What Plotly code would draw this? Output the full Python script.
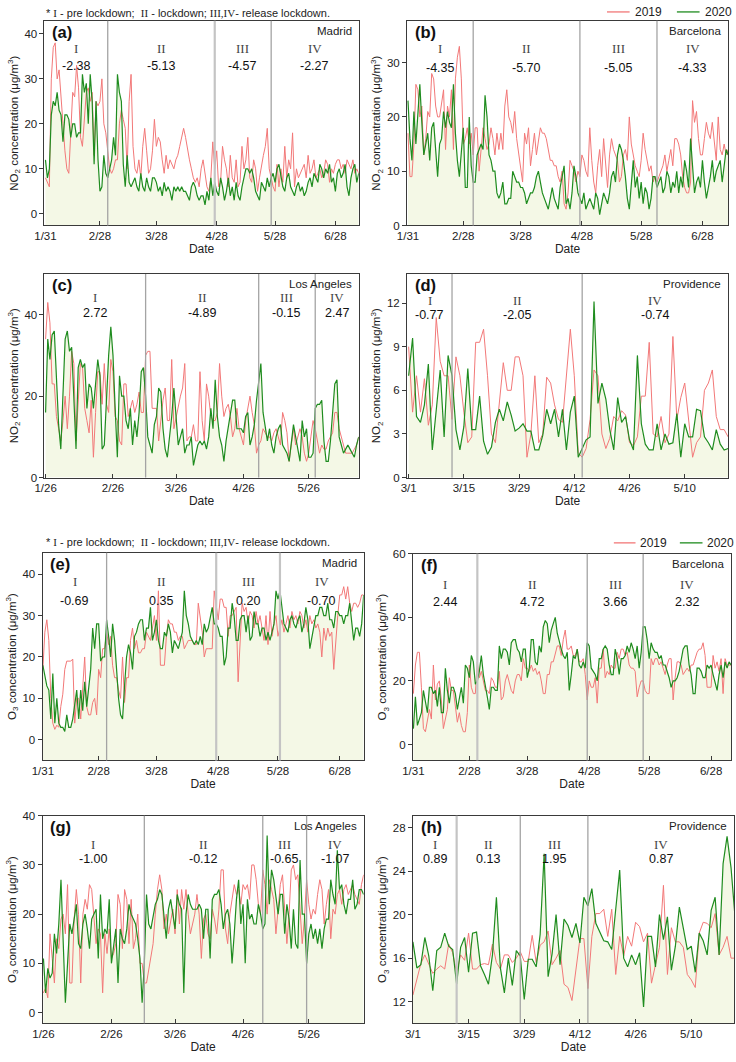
import pandas as pd
import plotly.graph_objects as go

W, H = 736, 1062

# ---------------- data (daily values) ----------------
# (a) Madrid NO2, from 1/31
a_2019 = [8, 7, 6, 30, 37, 38, 30, 32, 25, 20,
          14, 10, 9, 20, 27, 26, 33, 28, 17, 15,
          22, 27, 28, 25, 27, 13, 25, 24, 25, 30,
          20, 18, 14, 10, 9, 10, 12, 12, 20, 23,
          21, 19, 10, 25, 31, 15, 10, 9, 12, 8,
          15, 19, 14, 9, 10, 14, 21, 15, 17, 16,
          12, 9, 13, 10, 12, 11, 10, 12, 13, 15,
          17, 19, 17, 14, 12, 10, 8, 7, 8, 6,
          10, 12, 9, 6, 5, 8, 16, 10, 14, 6,
          7, 15, 12, 10, 6, 13, 8, 7, 12, 6,
          7, 15, 10, 12, 17, 8, 7, 12, 10, 5,
          8, 11, 13, 15, 19, 10, 8, 6, 5, 11,
          6, 10, 7, 15, 8, 12, 10, 18, 6, 10,
          8, 9, 10, 11, 8, 13, 9, 10, 12, 8,
          9, 10, 8, 9, 12, 11, 7, 10, 9, 11,
          12, 12, 10, 11, 9, 12, 11, 10, 12, 9,
          10, 9]
a_2020 = [12, 8, 10, 22, 25, 24, 27, 23, 22, 16,
          22, 22, 21, 17, 20, 20, 17, 18, 18, 31,
          27, 29, 20, 31, 25, 11, 25, 12, 5, 6,
          13, 9, 8, 10, 12, 17, 13, 31, 27, 25,
          11, 6, 13, 7, 6, 7, 8, 6, 5, 9,
          6, 5, 8, 6, 5, 8, 8, 7, 5, 6,
          4, 7, 5, 6, 5, 3, 6, 5, 6, 5,
          6, 5, 5, 4, 3, 6, 7, 6, 4, 3,
          4, 4, 2, 5, 3, 8, 4, 7, 5, 4,
          8, 6, 3, 5, 8, 4, 6, 3, 7, 4,
          3, 6, 8, 10, 10, 9, 10, 8, 5, 4,
          3, 7, 6, 5, 8, 6, 8, 9, 7, 10,
          11, 8, 6, 5, 8, 9, 6, 5, 4, 6,
          7, 5, 6, 4, 5, 7, 8, 6, 9, 8,
          7, 11, 10, 8, 10, 9, 11, 7, 8, 5,
          9, 10, 8, 9, 11, 6, 4, 8, 10, 11,
          7, 9]

# (b) Barcelona NO2, from 1/31
b_2019 = [17, 9, 9, 15, 26, 25, 20, 22, 13, 16,
          21, 20, 28, 27, 22, 20, 20, 23, 25, 14,
          22, 20, 25, 14, 27, 31, 33, 27, 15, 16,
          18, 15, 17, 13, 18, 18, 10, 14, 18, 16,
          14, 15, 18, 16, 13, 17, 14, 17, 14, 22,
          25, 20, 19, 17, 21, 16, 13, 10, 8, 17,
          15, 18, 11, 14, 17, 13, 16, 18, 17, 17,
          16, 14, 12, 12, 11, 11, 9, 8, 10, 4,
          3, 6, 12, 11, 10, 8, 10, 9, 13, 12,
          10, 9, 18, 12, 8, 6, 11, 14, 9, 16,
          12, 7, 13, 16, 14, 13, 12, 8, 9, 13,
          14, 12, 20, 15, 13, 11, 10, 9, 12, 17,
          14, 12, 10, 11, 8, 9, 8, 9, 10, 11,
          13, 10, 12, 14, 11, 16, 16, 15, 13, 9,
          7, 6, 6, 8, 23, 19, 21, 16, 13, 13,
          16, 19, 17, 16, 19, 15, 12, 20, 14, 13,
          15, 13, 14]
b_2020 = [23, 16, 12, 21, 15, 20, 26, 19, 13, 15,
          17, 12, 18, 19, 14, 9, 15, 16, 21, 18,
          21, 19, 18, 26, 17, 12, 9, 13, 18, 7,
          7, 20, 11, 8, 8, 13, 14, 15, 14, 24,
          20, 13, 12, 10, 10, 6, 5, 6, 8, 4,
          4, 5, 5, 10, 9, 8, 8, 7, 7, 6,
          4, 5, 6, 6, 7, 9, 10, 8, 6, 5,
          4, 3, 5, 7, 5, 4, 3, 7, 9, 11,
          4, 5, 3, 6, 11, 9, 6, 5, 4, 6,
          3, 4, 5, 4, 3, 6, 5, 2, 4, 6,
          5, 4, 6, 9, 10, 8, 13, 15, 14, 12,
          9, 5, 3, 8, 12, 7, 9, 5, 8, 4,
          7, 6, 3, 5, 9, 9, 7, 8, 9, 6,
          7, 10, 9, 6, 8, 7, 10, 6, 9, 7,
          12, 10, 7, 16, 10, 6, 8, 9, 7, 12,
          8, 5, 7, 9, 12, 8, 10, 11, 12, 8,
          11, 14, 13]

# (c) Los Angeles NO2, from 1/26
c_2019 = [34, 43, 38, 23, 23, 15, 12, 9, 14, 20,
          12, 20, 31, 28, 9, 20, 28, 27, 17, 14,
          11, 19, 5, 16, 26, 26, 18, 28, 18, 16,
          29, 26, 15, 14, 9, 8, 23, 23, 15, 17,
          19, 16, 18, 21, 16, 16, 30, 31, 31, 17,
          17, 17, 9, 14, 19, 22, 14, 14, 29, 12,
          15, 18, 20, 22, 28, 9, 10, 10, 13, 9,
          9, 26, 14, 9, 23, 20, 15, 14, 14, 16,
          28, 20, 15, 17, 18, 15, 10, 12, 17, 12,
          10, 8, 14, 17, 20, 16, 13, 6, 8, 9,
          12, 11, 10, 10, 9, 11, 12, 10, 8, 16,
          14, 11, 4, 8, 12, 8, 10, 12, 10, 6,
          4, 6, 10, 14, 12, 9, 6, 8, 7, 7,
          9, 10, 11, 16, 16, 12, 10, 8, 6, 6,
          6, 6, 7, 8, 10]
c_2020 = [16, 34, 29, 35, 36, 23, 13, 7, 20, 34,
          36, 31, 32, 20, 7, 27, 29, 27, 28, 17,
          23, 22, 17, 23, 29, 25, 7, 8, 20, 30,
          37, 30, 17, 5, 25, 20, 20, 14, 12, 17,
          8, 14, 10, 16, 26, 27, 20, 10, 8, 6,
          13, 15, 22, 21, 12, 7, 5, 10, 15, 22,
          14, 8, 10, 12, 6, 8, 8, 10, 3, 6,
          8, 9, 8, 9, 7, 10, 17, 12, 24, 15,
          10, 8, 4, 9, 12, 15, 19, 19, 12, 12,
          12, 11, 15, 16, 8, 10, 13, 19, 24, 28,
          16, 12, 9, 12, 8, 6, 10, 12, 13, 8,
          7, 6, 4, 9, 13, 10, 7, 4, 14, 10,
          12, 5, 5, 6, 17, 18, 18, 19, 9, 4,
          4, 9, 16, 23, 24, 10, 8, 6, 7, 8,
          7, 6, 5, 8, 10]

# (d) Providence NO2, from 3/1
d_2019 = [9, 4.5, 7, 4.5, 6.8, 3.6, 5, 11, 8, 7,
          7, 4, 8.3, 7, 4.5, 2.4, 2.8, 9.3, 9.3, 10.2,
          7, 3, 2.4, 5, 7.9, 6, 6, 8.3, 8.3, 7,
          1.4, 3, 7, 2.4, 3, 6.9, 6.5, 5, 4, 3.8,
          7, 10.2, 7, 1.7, 1.4, 2, 4, 7.4, 7, 3,
          2, 2.7, 4.2, 3.9, 4.6, 4.3, 2.4, 2.2, 2.8, 5.6,
          5.6, 9.3, 3, 2.8, 4.2, 2.4, 3, 9.7, 4, 5.5,
          6.5, 3.8, 1.4, 2.4, 2.8, 6, 6.5, 7.4, 4.2, 3.3,
          3.3, 2.8]
d_2020 = [7, 9.6, 4.2, 3.8, 5, 7.8, 1.9, 4.5, 7.4, 2.8,
          8.4, 7, 3.3, 1.9, 3.5, 7.5, 3.3, 3.3, 5.6, 2.5,
          1.6, 2.1, 3.8, 4.7, 3.9, 5.2, 4.3, 3.2, 3.4, 3.7,
          3.2, 3.2, 1.9, 1.9, 2.9, 4.7, 3.7, 4.7, 2.8, 4.7,
          1.9, 4.5, 5.6, 1.4, 2, 2.6, 2.8, 12.1, 5.1, 6.5,
          5.4, 3.3, 1.9, 5.5, 3.8, 4.2, 2.6, 1.9, 8.4, 3.7,
          2.3, 1.9, 1.9, 3.7, 1.9, 3, 2.3, 2.4, 4.4, 1.4,
          3.7, 2.8, 2.8, 4.7, 4.6, 2.8, 2.4, 1.9, 3.3, 2.3,
          1.9, 2]

# (e) Madrid O3, from 1/31
e_2019 = [17, 26, 29, 24, 10, 4, 2.5, 3.5, 3, 8,
          11, 17, 19, 19, 19, 19.5, 4, 10, 10, 5,
          12, 20, 8, 6, 6, 9, 10, 6, 17, 15,
          22, 22, 26, 23, 25, 18, 15, 15, 12, 10,
          20, 9, 15, 15, 24, 27, 22, 24, 21, 21,
          22, 22, 26, 25, 24, 27, 30, 24, 36, 18,
          18, 18, 25, 29, 28, 28, 26, 26, 24, 25,
          25, 22, 23, 24, 24, 24, 23, 23, 33, 30,
          26, 20, 22, 22, 22, 22, 36, 32, 29, 34,
          34, 32, 32, 25, 30, 30, 31, 32, 14, 25,
          33, 31, 32, 28, 31, 30, 27, 31, 28, 30,
          27, 24, 30, 23, 31, 25, 28, 30, 25, 27,
          29, 26, 28, 30, 27, 31, 29, 30, 28, 31,
          30, 27, 29, 26, 30, 28, 29, 27, 28, 26,
          20, 27, 24, 27, 25, 26, 17, 24, 30, 35,
          35, 37, 34, 37, 33, 31, 33, 33, 32, 33,
          35, 35]
e_2020 = [18, 15, 13, 12, 5, 16, 4, 10, 4, 3,
          3, 2, 6, 3, 3, 5, 8, 12, 5, 12,
          7, 14, 8, 12, 17, 27, 22, 28, 28, 19,
          20, 20, 29, 25, 20, 28, 24, 17, 10, 6,
          5, 13, 20, 23, 21, 17, 25, 26, 28, 29,
          29, 24, 27, 27, 32, 24, 26, 29, 24, 22,
          22, 26, 25, 28, 26, 21, 24, 23, 22, 24,
          26, 36, 30, 28, 25, 24, 23, 24, 23, 25,
          23, 28, 26, 27, 30, 32, 28, 28, 27, 25,
          25, 18, 20, 27, 27, 33, 30, 24, 24, 29,
          30, 30, 26, 30, 24, 25, 31, 28, 28, 25,
          27, 27, 24, 26, 24, 26, 28, 36, 34, 36,
          32, 28, 27, 26, 29, 30, 28, 27, 29, 30,
          26, 28, 32, 29, 22, 25, 28, 30, 30, 32,
          32, 30, 30, 33, 29, 29, 27, 31, 31, 30,
          30, 28, 30, 30, 33, 28, 24, 27, 27, 25,
          28, 35]

# (f) Barcelona O3, from 1/31
f_2019 = [16, 25, 29, 29, 18, 5, 4, 8, 11, 8,
          25, 14, 19, 20, 14, 5, 8, 11, 21, 17,
          17, 12, 7, 10, 6, 4, 4, 10, 25, 18,
          16, 16, 26, 21, 23, 20, 17, 17, 16, 21,
          20, 18, 18, 23, 14, 15, 20, 22, 19, 17,
          16, 20, 22, 22, 20, 27, 24, 24, 23, 25,
          23, 24, 22, 23, 20, 16, 16, 22, 22, 26,
          26, 29, 31, 31, 28, 33, 36, 30, 30, 31,
          28, 28, 30, 26, 26, 27, 22, 14, 20, 18,
          18, 21, 13, 24, 24, 30, 21, 23, 22, 25,
          24, 24, 29, 27, 30, 30, 28, 29, 25, 24,
          24, 23, 15, 18, 20, 20, 17, 16, 16, 27,
          25, 27, 27, 25, 26, 24, 22, 25, 27, 27,
          14, 21, 26, 26, 25, 22, 23, 24, 23, 25,
          25, 27, 29, 30, 30, 32, 28, 18, 18, 18,
          28, 24, 26, 23, 27, 16, 27, 25, 25, 25]
f_2020 = [5, 15, 6, 8, 10, 17, 14, 10, 18, 18,
          16, 17, 12, 18, 10, 10, 24, 17, 13, 18,
          18, 16, 11, 14, 18, 13, 25, 24, 21, 28,
          26, 19, 20, 23, 28, 22, 19, 15, 11, 18,
          18, 17, 17, 31, 27, 30, 30, 29, 25, 32,
          33, 33, 30, 29, 26, 30, 30, 21, 24, 33,
          33, 26, 25, 31, 29, 37, 39, 38, 32, 36,
          38, 40, 35, 32, 30, 28, 27, 29, 17, 22,
          28, 27, 30, 25, 24, 26, 24, 32, 31, 24,
          23, 22, 20, 27, 27, 30, 31, 30, 25, 22,
          22, 30, 27, 22, 27, 27, 28, 31, 29, 32,
          30, 27, 31, 24, 29, 37, 37, 33, 27, 32,
          30, 29, 29, 27, 28, 25, 25, 23, 21, 18,
          20, 20, 21, 23, 27, 30, 31, 31, 25, 22,
          16, 16, 24, 24, 23, 21, 21, 25, 24, 25,
          22, 19, 17, 22, 25, 21, 26, 24, 26, 25]

# (g) Los Angeles O3, from 1/26
g_2019 = [4, 5, 3, 16, 11, 6, 15, 13, 19, 20,
          16, 26, 6, 6, 19, 25, 20, 6, 20, 23,
          21, 26, 25, 20, 14, 17, 16, 4, 16, 12,
          17, 11, 12, 14, 24, 22, 13, 25, 23, 14,
          23, 13, 15, 20, 10, 10, 6, 6, 9, 12,
          14, 20, 25, 28, 25, 17, 20, 16, 19, 21,
          16, 25, 18, 25, 21, 25, 20, 16, 18, 20,
          24, 20, 11, 19, 20, 16, 15, 21, 19, 16,
          21, 29, 29, 17, 14, 20, 23, 26, 24, 25,
          22, 26, 25, 26, 23, 30, 30, 27, 22, 20,
          29, 26, 20, 27, 25, 23, 16, 22, 26, 28,
          22, 14, 20, 29, 30, 27, 28, 22, 14, 19,
          27, 22, 19, 21, 20, 24, 27, 25, 18, 22,
          25, 15, 21, 20, 24, 25, 22, 25, 26, 24,
          25, 26, 24, 23, 22, 26, 28]
g_2020 = [11, 4, 9, 7, 8, 16, 12, 18, 27, 16,
          2, 10, 18, 16, 19, 22, 14, 13, 18, 20,
          17, 13, 19, 20, 21, 11, 24, 15, 17, 16,
          23, 10, 14, 17, 6, 17, 15, 14, 17, 22,
          20, 19, 18, 15, 11, 2, 10, 24, 18, 17,
          20, 22, 23, 25, 24, 20, 15, 21, 23, 20,
          17, 24, 22, 21, 4, 20, 24, 22, 21, 21,
          21, 22, 21, 15, 21, 21, 11, 23, 24, 24,
          25, 22, 17, 20, 21, 18, 10, 16, 23, 27,
          18, 22, 10, 23, 19, 20, 18, 18, 22, 20,
          17, 18, 36, 22, 29, 27, 24, 20, 24, 24,
          16, 22, 19, 13, 21, 14, 13, 31, 20, 20,
          10, 16, 18, 15, 17, 14, 17, 13, 17, 19,
          19, 27, 24, 22, 33, 25, 26, 22, 20, 23,
          23, 27, 21, 22, 25, 25, 24]

# (h) Providence O3, from 3/1
h_2019 = [12.6, 14, 15.5, 16.3, 15.5, 14.6, 15, 15.3, 15, 17.3,
          16.5, 14.6, 16.3, 15.8, 18.3, 15, 15, 15.4, 15.5, 15.4,
          17.3, 15.6, 15, 16.3, 16.3, 15.6, 16, 16.6, 15.7, 15.7,
          18.1, 15.6, 17.2, 17.5, 18.5, 15.4, 16, 16.7, 13.6, 13.3,
          12.1, 15, 17.8, 17.8, 13.2, 18, 20.1, 20.1, 20.5, 18,
          20.5, 14.5, 18, 16.2, 18, 17.1, 19.3, 18.9, 17.5, 18.3,
          13.7, 15.4, 17, 22.7, 14.5, 18.8, 17.5, 17.5, 17, 14.5,
          14, 13.3, 18.3, 19.3, 19.2, 18.8, 20.1, 16.3, 17, 18,
          16, 16]
h_2020 = [17.5, 15.1, 15.4, 17.9, 16.2, 13, 16.7, 17, 18.3, 17.1,
          16.8, 13.6, 17, 17.9, 14.7, 18.3, 18.4, 15.3, 14.5, 13.6,
          16.3, 21.6, 15.1, 12.8, 16, 13.5, 16.7, 16.2, 12.2, 15.9,
          15.9, 15.2, 18.2, 25.6, 14.3, 16.4, 20, 15.4, 19.6, 19,
          17.9, 19.2, 17.4, 21.6, 20.8, 22.4, 19.2, 18.4, 17.6, 17.5,
          16.8, 20.5, 24.1, 16, 15.2, 16.3, 15.4, 16.5, 11.5, 18,
          18, 15.2, 20, 17.7, 19.8, 14.9, 17.1, 20.7, 18.6, 16.8,
          17.1, 14.7, 18.3, 17.6, 16.3, 20.4, 21.6, 16.3, 24.7, 27.2,
          24.3, 19.8]

# period numerals and changes
a_changes = ["-2.38", "-5.13", "-4.57", "-2.27"]
b_changes = ["-4.35", "-5.70", "-5.05", "-4.33"]
c_changes = ["2.72", "-4.89", "-0.15", "2.47"]
d_changes = ["-0.77", "-2.05", "-0.74"]
e_changes = ["-0.69", "0.35", "0.20", "-0.70"]
f_changes = ["2.44", "4.72", "3.66", "2.32"]
g_changes = ["-1.00", "-0.12", "-0.65", "-1.07"]
h_changes = ["0.89", "0.13", "1.95", "0.87"]
periods4 = ["I", "II", "III", "IV"]
periods3 = ["I", "II", "IV"]

# tick labels
ticks_jan31 = ["2020-01-31", "2020-02-28", "2020-03-28", "2020-04-28", "2020-05-28", "2020-06-28"]
labels_jan31 = ["1/31", "2/28", "3/28", "4/28", "5/28", "6/28"]
ticks_jan26 = ["2020-01-26", "2020-02-26", "2020-03-26", "2020-04-26", "2020-05-26"]
labels_jan26 = ["1/26", "2/26", "3/26", "4/26", "5/26"]
ticks_mar1 = ["2020-03-01", "2020-03-15", "2020-03-29", "2020-04-12", "2020-04-26", "2020-05-10"]
labels_mar1 = ["3/1", "3/15", "3/29", "4/12", "4/26", "5/10"]

NO2_TITLE = "NO<sub>2</sub> concentration (μg/m<sup>3</sup>)"
O3_TITLE = "O<sub>3</sub> concentration (μg/m<sup>3</sup>)"

RED = "#f27878"
GREEN = "#1f8c1f"
FILL = "#f4f8e6"
FRAME = "#3a3a3a"
VLINE = "#a4a4a4"
VLINE_LIGHT = "#c4c4c4"
SANS = "Liberation Sans, Arial, sans-serif"
SERIF = "Liberation Serif, Times New Roman, serif"

panels = [
    dict(lab="(a)", city="Madrid", d19=a_2019, d20=a_2020, start="2020-01-31",
         rng=["2020-01-30 12:00", "2020-07-10"], lines=["2020-03-03", "2020-04-27", "2020-05-26"],
         lstyle=[0, 1, 0],
         yr=[-2.6, 42.9], yt=[0, 10, 20, 30, 40], xt=ticks_jan31, xl=labels_jan31,
         box=(34, 353, 15, 222), yt_title=NO2_TITLE, per=periods4, chg=a_changes, ypos=(0.865, 0.78)),
    dict(lab="(b)", city="Barcelona", d19=b_2019, d20=b_2020, start="2020-01-31",
         rng=["2020-01-30 12:00", "2020-07-11"], lines=["2020-03-04", "2020-04-27", "2020-06-05"],
         lstyle=[0, 0, 0],
         yr=[0, 37.7], yt=[0, 10, 20, 30], xt=ticks_jan31, xl=labels_jan31,
         box=(402, 728, 15, 222), yt_title=NO2_TITLE, per=periods4, chg=b_changes, ypos=(0.865, 0.77)),
    dict(lab="(c)", city="Los Angeles", d19=c_2019, d20=c_2020, start="2020-01-26",
         rng=["2020-01-25 12:00", "2020-06-18"], lines=["2020-03-12", "2020-05-03", "2020-05-29"],
         lstyle=[0, 0, 0],
         yr=[0, 50], yt=[0, 20, 40], xt=ticks_jan26, xl=labels_jan26,
         box=(34, 353, 271, 477), yt_title=NO2_TITLE, per=periods4, chg=c_changes, ypos=(0.883, 0.81)),
    dict(lab="(d)", city="Providence", d19=d_2019, d20=d_2020, start="2020-03-01",
         rng=["2020-02-29 14:00", "2020-05-21"], lines=["2020-03-12", "2020-04-14"],
         lstyle=[0, 0],
         yr=[0, 14], yt=[0, 3, 6, 9, 12], xt=ticks_mar1, xl=labels_mar1,
         box=(402, 728, 271, 477), yt_title=NO2_TITLE, per=periods3, chg=d_changes, ypos=(0.872, 0.80)),
    dict(lab="(e)", city="Madrid", d19=e_2019, d20=e_2020, start="2020-01-31",
         rng=["2020-01-30 20:00", "2020-07-10"], lines=["2020-03-03", "2020-04-27", "2020-05-29"],
         lstyle=[0, 1, 1],
         yr=[-5, 45.2], yt=[0, 10, 20, 30, 40], xt=ticks_jan31, xl=labels_jan31,
         box=(32, 358, 553, 763), yt_title=O3_TITLE, per=periods4, chg=e_changes, ypos=(0.86, 0.77)),
    dict(lab="(f)", city="Barcelona", d19=f_2019, d20=f_2020, start="2020-01-31",
         rng=["2020-01-30 18:00", "2020-07-08"], lines=["2020-03-03", "2020-04-27", "2020-05-25"],
         lstyle=[1, 0, 0],
         yr=[-5, 60], yt=[0, 20, 40, 60], xt=ticks_jan31, xl=labels_jan31,
         box=(408, 731, 554, 763), yt_title=O3_TITLE, per=periods4, chg=f_changes, ypos=(0.85, 0.765)),
    dict(lab="(g)", city="Los Angeles", d19=g_2019, d20=g_2020, start="2020-01-26",
         rng=["2020-01-25 14:00", "2020-06-20"], lines=["2020-03-12", "2020-05-05", "2020-05-25"],
         lstyle=[0, 0, 0],
         yr=[-2.2, 40], yt=[0, 10, 20, 30, 40], xt=ticks_jan26, xl=labels_jan26,
         box=(32, 358, 819, 1029), yt_title=O3_TITLE, per=periods4, chg=g_changes, ypos=(0.86, 0.79)),
    dict(lab="(h)", city="Providence", d19=h_2019, d20=h_2020, start="2020-03-01",
         rng=["2020-03-01", "2020-05-20 18:00"], lines=["2020-03-12", "2020-03-28", "2020-04-14"],
         lstyle=[1, 0, 0],
         yr=[10, 29.1], yt=[12, 16, 20, 24, 28], xt=ticks_mar1, xl=labels_mar1,
         box=(408, 734, 819, 1029), yt_title=O3_TITLE, per=periods4, chg=h_changes, ypos=(0.86, 0.79)),
]

fig = go.Figure()
annotations = []
shapes = []

for i, p in enumerate(panels, start=1):
    sfx = "" if i == 1 else str(i)
    xa, ya = "x" + sfx, "y" + sfx
    d19 = pd.date_range(p["start"], periods=len(p["d19"]), freq="D")
    d20 = pd.date_range(p["start"], periods=len(p["d20"]), freq="D")
    y0 = p["yr"][0]
    # shaded area under the 2020 curve down to the axis floor
    fig.add_trace(go.Scatter(x=d20, y=[y0] * len(d20), mode="lines", line=dict(width=0),
                             hoverinfo="skip", showlegend=False, xaxis=xa, yaxis=ya))
    fig.add_trace(go.Scatter(x=d20, y=p["d20"], mode="lines", line=dict(width=0),
                             fill="tonexty", fillcolor=FILL, hoverinfo="skip",
                             showlegend=False, xaxis=xa, yaxis=ya))
    fig.add_trace(go.Scatter(x=d19, y=p["d19"], mode="lines", name="2019",
                             line=dict(color=RED, width=1), showlegend=False,
                             xaxis=xa, yaxis=ya))
    fig.add_trace(go.Scatter(x=d20, y=p["d20"], mode="lines", name="2020",
                             line=dict(color=GREEN, width=1.2), showlegend=False,
                             xaxis=xa, yaxis=ya))

    x0, x1, t, b = p["box"]
    fig.update_layout(**{
        "xaxis" + sfx: dict(
            domain=[x0 / W, x1 / W], anchor=ya, type="date", range=p["rng"],
            tickvals=p["xt"], ticktext=p["xl"], ticks="inside", ticklen=4,
            tickcolor=FRAME, showline=True, mirror=True, linecolor=FRAME, linewidth=1,
            showgrid=False, zeroline=False,
            tickfont=dict(family=SANS, size=11.5, color="#222"),
            title=dict(text="Date", font=dict(family=SANS, size=12, color="#222"), standoff=3),
        ),
        "yaxis" + sfx: dict(
            domain=[1 - b / H, 1 - t / H], anchor=xa, range=p["yr"],
            tickvals=p["yt"], ticks="outside", ticklen=4, tickcolor=FRAME,
            showline=True, mirror=True, linecolor=FRAME, linewidth=1,
            showgrid=False, zeroline=False,
            tickfont=dict(family=SANS, size=11.5, color="#222"),
            title=dict(text=p["yt_title"], font=dict(family=SANS, size=11.5, color="#222"), standoff=3),
        ),
    })

    # period boundaries
    for ln, st in zip(p["lines"], p["lstyle"]):
        lcol, lw = (VLINE_LIGHT, 2.2) if st else (VLINE, 1.3)
        shapes.append(dict(type="line", xref=xa, yref=ya + " domain", x0=ln, x1=ln, y0=0, y1=1,
                           line=dict(color=lcol, width=lw)))
    bounds = [pd.Timestamp(p["rng"][0])] + [pd.Timestamp(s) for s in p["lines"]] + [pd.Timestamp(p["rng"][1])]
    for k, (num, chg) in enumerate(zip(p["per"], p["chg"])):
        c = bounds[k] + (bounds[k + 1] - bounds[k]) / 2
        annotations.append(dict(x=c, y=p["ypos"][0], xref=xa, yref=ya + " domain", text=num,
                                showarrow=False, font=dict(family=SERIF, size=13, color="#444"),
                                xanchor="center", yanchor="middle"))
        annotations.append(dict(x=c, y=p["ypos"][1], xref=xa, yref=ya + " domain", text=chg,
                                showarrow=False, font=dict(family=SANS, size=12.5, color="#111"),
                                xanchor="center", yanchor="middle"))
    # panel label and city
    h = b - t
    annotations.append(dict(x=6 / (x1 - x0), y=1 - 11 / h, xref=xa + " domain", yref=ya + " domain",
                            text="<b>" + p["lab"] + "</b>", showarrow=False,
                            font=dict(family=SANS, size=16.5, color="#111"),
                            xanchor="left", yanchor="middle"))
    annotations.append(dict(x=1 - 5 / (x1 - x0), y=1 - 10 / h, xref=xa + " domain", yref=ya + " domain",
                            text=p["city"], showarrow=False,
                            font=dict(family=SANS, size=11.5, color="#222"),
                            xanchor="right", yanchor="middle"))

# note lines
note = ("* <span style='font-family:Liberation Serif'>I</span> - pre lockdown;  "
        "<span style='font-family:Liberation Serif'>II</span> - lockdown; "
        "<span style='font-family:Liberation Serif'>III,IV</span>- release lockdown.")
for (nx, ny) in [(34, 7), (33, 542)]:
    annotations.append(dict(x=nx / W, y=1 - ny / H, xref="paper", yref="paper", text=note,
                            showarrow=False, font=dict(family=SANS, size=11, color="#222"),
                            xanchor="left", yanchor="middle"))

# legends (line samples + labels)
legend_sets = [
    (6, [(605, 628, "2019", RED), (676, 699, "2020", GREEN)]),
    (543, [(612, 634, "2019", RED), (679, 702, "2020", GREEN)]),
]
for ly, items in legend_sets:
    for lx0, lx1, txt, col in items:
        shapes.append(dict(type="line", xref="paper", yref="paper", x0=lx0 / W, x1=lx1 / W,
                           y0=1 - ly / H, y1=1 - ly / H, line=dict(color=col, width=1.3)))
        annotations.append(dict(x=(lx1 + 3) / W, y=1 - ly / H, xref="paper", yref="paper",
                                text=txt, showarrow=False, xanchor="left", yanchor="middle",
                                font=dict(family=SANS, size=12, color="#222")))

fig.update_layout(
    width=W, height=H, margin=dict(l=0, r=0, t=0, b=0),
    paper_bgcolor="white", plot_bgcolor="white", showlegend=False,
    annotations=annotations, shapes=shapes,
)

fig.write_html("out.html",
               config={"displayModeBar": False},
               post_script="document.body.style.margin='0px';document.body.style.padding='0px';"
                           "document.body.style.overflow='hidden';")
